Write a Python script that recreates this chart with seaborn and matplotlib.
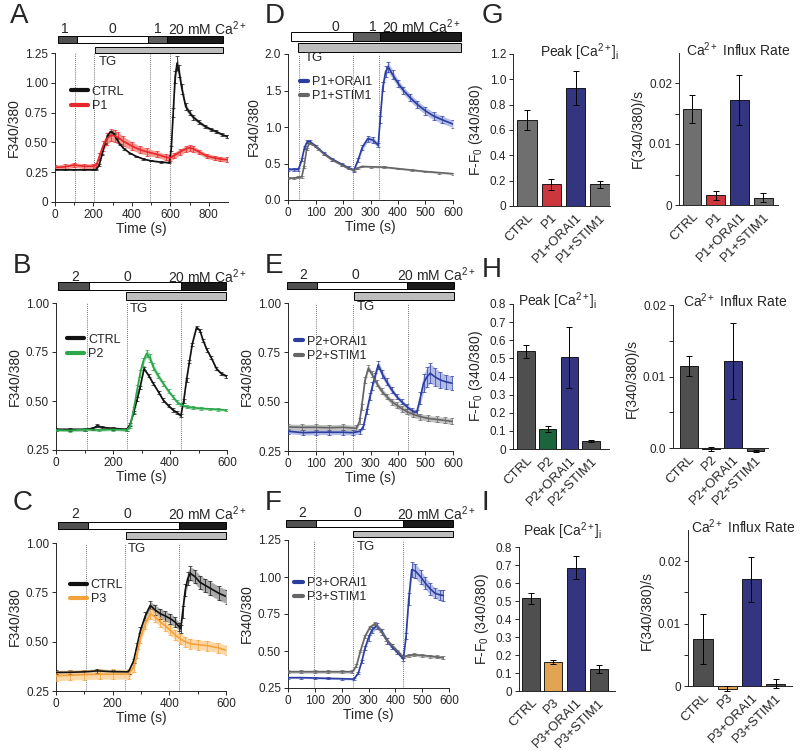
import numpy as np
import pandas as pd
import matplotlib
matplotlib.use("Agg")
import matplotlib.pyplot as plt
import seaborn as sns
from matplotlib.patches import Rectangle
from matplotlib.lines import Line2D

# --- 1. Traces: time (s), F340/380 mean, SEM ---
a_t_ctrl = [0, 50, 100, 150, 200, 215, 230, 245, 260, 275, 290, 305, 320, 340, 360, 390, 420, 460, 500, 550,
            595, 605, 615, 625, 635, 645, 660, 680, 700, 720, 750, 780, 810, 840, 870, 895]
a_ctrl = [0.27, 0.27, 0.27, 0.27, 0.27, 0.275, 0.31, 0.40, 0.49, 0.56, 0.59, 0.575, 0.53, 0.48, 0.445, 0.41, 0.385,
          0.36, 0.345, 0.335, 0.33, 0.45, 0.75, 1.05, 1.165, 1.10, 0.95, 0.80, 0.75, 0.71, 0.67, 0.635, 0.61, 0.59,
          0.565, 0.55]
a_ctrl_sem = [0.005] * 21 + [0.02, 0.04, 0.05, 0.06, 0.05, 0.04, 0.03, 0.02, 0.02, 0.015, 0.015, 0.012, 0.012,
                             0.01, 0.01]
a_t_p1 = [0, 50, 100, 150, 200, 215, 230, 250, 270, 290, 310, 330, 355, 400, 440, 480, 530, 580, 600, 620, 650,
          680, 700, 720, 750, 790, 830, 860, 895]
a_p1 = [0.29, 0.295, 0.31, 0.30, 0.30, 0.31, 0.38, 0.47, 0.53, 0.56, 0.555, 0.54, 0.51, 0.47, 0.44, 0.42, 0.40,
        0.375, 0.37, 0.39, 0.42, 0.445, 0.455, 0.445, 0.42, 0.385, 0.37, 0.36, 0.355]
a_p1_sem = [0.02, 0.02, 0.02, 0.02, 0.02, 0.02, 0.03, 0.04, 0.05, 0.05, 0.05, 0.045, 0.04, 0.035, 0.03, 0.03,
            0.025, 0.025, 0.025, 0.025, 0.025, 0.025, 0.025, 0.025, 0.02, 0.02, 0.02, 0.02, 0.02]

d_t_orai = [0, 20, 38, 50, 60, 70, 80, 100, 130, 160, 195, 220, 240, 255, 270, 290, 310, 328, 335, 345, 355, 365,
            380, 400, 420, 445, 470, 500, 530, 560, 600]
d_orai = [0.42, 0.42, 0.42, 0.55, 0.72, 0.80, 0.80, 0.74, 0.64, 0.56, 0.49, 0.44, 0.41, 0.55, 0.72, 0.84, 0.82,
          0.75, 1.10, 1.55, 1.76, 1.82, 1.72, 1.60, 1.50, 1.40, 1.31, 1.22, 1.15, 1.10, 1.04]
d_orai_sem = [0.02] * 13 + [0.03, 0.04, 0.04, 0.04, 0.03, 0.05, 0.06, 0.07, 0.07, 0.06, 0.05, 0.05, 0.05, 0.05,
                            0.05, 0.05, 0.05, 0.05]
d_t_stim = [0, 20, 38, 50, 58, 68, 78, 90, 110, 130, 160, 195, 220, 240, 255, 270, 300, 350, 400, 450, 500, 550, 600]
d_stim = [0.30, 0.30, 0.31, 0.32, 0.45, 0.70, 0.78, 0.76, 0.70, 0.63, 0.55, 0.48, 0.43, 0.41, 0.44, 0.46, 0.455,
          0.45, 0.43, 0.41, 0.39, 0.375, 0.36]
d_stim_sem = 0.012

b_t_ctrl = [0, 50, 100, 130, 145, 160, 200, 248, 260, 272, 285, 295, 309, 325, 341, 360, 376, 395, 411, 425, 438,
            448, 458, 468, 478, 493, 505, 516, 530, 545, 563, 580, 598]
b_ctrl = [0.355, 0.355, 0.355, 0.36, 0.374, 0.365, 0.36, 0.355, 0.38, 0.44, 0.51, 0.57, 0.665, 0.63, 0.59, 0.545,
          0.505, 0.475, 0.454, 0.44, 0.425, 0.50, 0.607, 0.70, 0.79, 0.875, 0.86, 0.81, 0.76, 0.72, 0.665, 0.64, 0.627]
b_ctrl_sem = 0.008
b_t_p2 = [0, 50, 100, 150, 200, 248, 260, 272, 285, 295, 305, 318, 330, 341, 358, 376, 395, 411, 425, 440, 460, 481,
          510, 540, 570, 598]
b_p2 = [0.352, 0.35, 0.355, 0.352, 0.355, 0.352, 0.37, 0.455, 0.56, 0.64, 0.70, 0.742, 0.72, 0.674, 0.63, 0.59,
        0.55, 0.52, 0.495, 0.48, 0.47, 0.466, 0.462, 0.46, 0.457, 0.454]
b_p2_sem = [0.006] * 6 + [0.01, 0.015, 0.02, 0.02, 0.02, 0.02, 0.02, 0.018, 0.015, 0.012, 0.01, 0.01, 0.01, 0.008,
                          0.008, 0.008, 0.006, 0.006, 0.006, 0.006]

e_t_stim = [0, 50, 100, 150, 200, 249, 260, 268, 280, 292, 305, 322, 340, 359, 377, 395, 413, 432, 456, 481, 510,
            541, 570, 596]
e_stim = [0.372, 0.37, 0.37, 0.368, 0.37, 0.365, 0.40, 0.475, 0.61, 0.67, 0.64, 0.594, 0.555, 0.526, 0.50, 0.483,
          0.465, 0.45, 0.435, 0.424, 0.415, 0.41, 0.405, 0.40]
e_stim_sem = 0.015
e_t_orai = [0, 55, 100, 150, 200, 237, 262, 274, 286, 298, 307, 316, 328, 343, 359, 377, 395, 413, 432, 450, 468,
            481, 493, 505, 517, 535, 554, 575, 596]
e_orai = [0.35, 0.343, 0.345, 0.345, 0.345, 0.343, 0.35, 0.374, 0.45, 0.526, 0.58, 0.627, 0.687, 0.64, 0.60, 0.56,
          0.526, 0.50, 0.475, 0.455, 0.445, 0.52, 0.594, 0.625, 0.644, 0.625, 0.61, 0.60, 0.594]
e_orai_sem = [0.012] * 7 + [0.012, 0.015, 0.02, 0.02, 0.02, 0.02, 0.02, 0.018, 0.015, 0.012, 0.012, 0.012, 0.012,
                            0.012, 0.03, 0.045, 0.05, 0.05, 0.045, 0.04, 0.035, 0.035]

c_t_ctrl = [0, 50, 100, 145, 200, 256, 274, 286, 298, 315, 333, 350, 368, 386, 404, 420, 435, 440, 447, 456, 465,
            474, 490, 509, 527, 545, 575, 604]
c_ctrl = [0.344, 0.345, 0.347, 0.352, 0.348, 0.347, 0.403, 0.48, 0.557, 0.63, 0.684, 0.66, 0.642, 0.63, 0.616, 0.60,
          0.575, 0.565, 0.65, 0.761, 0.82, 0.846, 0.83, 0.80, 0.785, 0.77, 0.745, 0.727]
c_ctrl_sem = [0.01] * 6 + [0.01, 0.015, 0.015, 0.02, 0.02, 0.025, 0.025, 0.025, 0.025, 0.025, 0.02, 0.02, 0.03,
                           0.03, 0.035, 0.035, 0.035, 0.035, 0.035, 0.035, 0.035, 0.035]
c_t_p3 = [0, 50, 100, 156, 200, 256, 274, 286, 298, 315, 333, 350, 368, 386, 404, 420, 439, 456, 474, 500, 533, 570,
          604]
c_p3 = [0.327, 0.33, 0.333, 0.335, 0.335, 0.335, 0.37, 0.44, 0.52, 0.59, 0.642, 0.625, 0.60, 0.58, 0.557, 0.535,
        0.514, 0.50, 0.49, 0.485, 0.48, 0.47, 0.455]
c_p3_sem = 0.025

f_t_orai = [0, 50, 100, 150, 200, 245, 262, 275, 287, 300, 312, 331, 350, 370, 387, 408, 430, 440, 450, 461, 475,
            495, 511, 530, 548, 565, 579]
f_orai = [0.32, 0.32, 0.318, 0.315, 0.313, 0.31, 0.35, 0.43, 0.52, 0.59, 0.64, 0.67, 0.63, 0.57, 0.53, 0.49, 0.445,
          0.60, 0.85, 1.05, 1.04, 1.00, 0.96, 0.92, 0.89, 0.88, 0.875]
f_orai_sem = [0.006] * 7 + [0.01, 0.015, 0.02, 0.02, 0.02, 0.02, 0.02, 0.015, 0.01, 0.01, 0.02, 0.04, 0.05, 0.05,
                            0.045, 0.04, 0.04, 0.035, 0.035, 0.035]
f_t_stim = [0, 50, 100, 150, 200, 240, 255, 270, 287, 305, 324, 345, 365, 387, 408, 430, 450, 470, 500, 530, 555, 579]
f_stim = [0.36, 0.36, 0.36, 0.36, 0.36, 0.36, 0.40, 0.50, 0.60, 0.66, 0.685, 0.64, 0.58, 0.54, 0.50, 0.46, 0.47,
          0.475, 0.47, 0.465, 0.46, 0.455]
f_stim_sem = 0.01

# --- 2. Bar summaries ---
g_groups = ['CTRL', 'P1', 'P1+ORAI1', 'P1+STIM1']
g_peak = [0.68, 0.17, 0.93, 0.17]
g_peak_sem = [0.08, 0.04, 0.135, 0.03]
g_rate = [0.0158, 0.0016, 0.0172, 0.0012]
g_rate_sem = [0.0023, 0.0007, 0.0041, 0.0007]

h_groups = ['CTRL', 'P2', 'P2+ORAI1', 'P2+STIM1']
h_peak = [0.538, 0.11, 0.505, 0.044]
h_peak_sem = [0.035, 0.015, 0.17, 0.004]
h_rate = [0.0115, -0.00015, 0.0122, -0.0004]
h_rate_sem = [0.0014, 0.0003, 0.0053, 0.0001]

i_groups = ['CTRL', 'P3', 'P3+ORAI1', 'P3+STIM1']
i_peak = [0.515, 0.162, 0.685, 0.12]
i_peak_sem = [0.032, 0.01, 0.065, 0.022]
i_rate = [0.0075, -0.0004, 0.0171, 0.0004]
i_rate_sem = [0.0040, 0.0004, 0.0036, 0.0007]

# --- 3. Style ---
W, H = 800, 751
sns.set_theme(style='ticks')
plt.rcParams['font.family'] = ['Liberation Sans', 'DejaVu Sans']
plt.rcParams['mathtext.fontset'] = 'custom'
plt.rcParams['mathtext.rm'] = 'Liberation Sans'
plt.rcParams['mathtext.it'] = 'Liberation Sans:italic'
plt.rcParams['mathtext.bf'] = 'Liberation Sans:bold'
plt.rcParams['axes.linewidth'] = 0.7

BLACK, CTRL_BAND = '#111111', '#9a9a9a'
RED, RED_BAND = '#e8262b', '#f2897d'
GREEN, GREEN_BAND = '#2aa84a', '#93d3a2'
ORANGE, ORANGE_BAND = '#f5a23a', '#fbd29a'
BLUE, BLUE_BAND = '#2b3ea0', '#a6b0e3'
GREY, GREY_BAND = '#666666', '#b8b8b8'
CA = 'Ca$^{2+}$'

fig = plt.figure(figsize=(8, 7.51), dpi=100)


def px_axes(l, t, r, b):
    return fig.add_axes([l / W, 1 - b / H, (r - l) / W, (b - t) / H])


def draw_trace(ax, t, v, e, color, band):
    t = np.asarray(t, float)
    v = np.asarray(v, float)
    e = np.broadcast_to(np.asarray(e, float), v.shape)
    ax.fill_between(t, v - e, v + e, color=band, lw=0, alpha=0.85, zorder=2)
    ax.errorbar(t, v, yerr=e, fmt='none', ecolor=color, elinewidth=0.5, capsize=1.2, capthick=0.5, zorder=3)
    sns.lineplot(x=t, y=v, color=color, lw=1.2, ax=ax, zorder=4)


def trace_panel(box, lines, xlim, xticks, xminor, ylim, yticks, ylabels, marks, segs, tg, sol_labels,
                bar_y, tg_y, label_y, tg_text, leg_xy, leg_hl):
    ax = px_axes(*box)
    for t, v, e, col, band, lab in lines:
        draw_trace(ax, t, v, e, col, band)
    for m in marks:
        ax.axvline(m, color='#444444', ls=(0, (1, 1.5)), lw=0.6, zorder=1)
    ax.set_xlim(xlim)
    ax.set_ylim(ylim)
    ax.set_xticks(xticks)
    ax.set_xticks(xminor, minor=True)
    ax.set_yticks(yticks, ylabels)
    ax.tick_params(labelsize=8.5, length=3, width=0.7, pad=2)
    ax.tick_params(which='minor', length=2.5, width=0.7)
    sns.despine(ax=ax)
    ax.set_xlabel('Time (s)', fontsize=10, labelpad=1)
    ax.set_ylabel('F340/380', fontsize=10, labelpad=3)
    tr = ax.get_xaxis_transform()
    for t0, t1, c in segs:
        ax.add_patch(Rectangle((t0, bar_y[0]), t1 - t0, bar_y[1], transform=tr, facecolor=c,
                               edgecolor='black', lw=0.7, clip_on=False))
    ax.add_patch(Rectangle((tg[0], tg_y[0]), tg[1] - tg[0], tg_y[1], transform=tr, facecolor='#bdbdbd',
                           edgecolor='black', lw=0.7, clip_on=False))
    for x, s, ha in sol_labels:
        ax.text(x, label_y, s, transform=tr, ha=ha, va='center', fontsize=10)
    ax.text(tg_text[0], tg_text[1], 'TG', transform=tr, ha='left', va='center', fontsize=9.5)
    handles = [Line2D([], [], color=col, lw=3) for t, v, e, col, band, lab in lines]
    labels = [lab for t, v, e, col, band, lab in lines]
    ax.legend(handles, labels, loc='upper left', bbox_to_anchor=leg_xy, frameon=False, borderpad=0,
              borderaxespad=0, handlelength=leg_hl, handletextpad=0.3, labelspacing=0.2, fontsize=9)
    return ax


def bar_panel(box, groups, vals, errs, colors, xlim, ylim, yticks, ylabels, title, title_xy, ylabel,
              zero_spine=False):
    ax = px_axes(*box)
    df = pd.DataFrame({'group': groups, 'value': vals})
    sns.barplot(data=df, x='group', y='value', hue='group', palette=dict(zip(groups, colors)), legend=False,
                width=0.8, edgecolor='black', linewidth=0.6, errorbar=None, ax=ax)
    ax.errorbar(np.arange(len(groups)), vals, yerr=errs, fmt='none', ecolor='black', elinewidth=0.7,
                capsize=2, capthick=0.7, zorder=5)
    sns.despine(ax=ax)
    if zero_spine:
        # moving the spine resets the ticks, so do it before styling them
        ax.spines['bottom'].set_position(('data', 0))
        ax.spines['left'].set_bounds(0, ylim[1])
    ax.set_xlim(xlim)
    ax.set_ylim(ylim)
    ax.set_yticks(yticks, ylabels)
    ax.set_xticks(range(len(groups)), groups, rotation=45, ha='right', rotation_mode='anchor')
    ax.tick_params(axis='y', labelsize=8.5, length=3, width=0.7, pad=2)
    ax.tick_params(axis='x', labelsize=9.5, length=0, pad=4)
    ax.set_xlabel('')
    ax.set_ylabel(ylabel, fontsize=10, labelpad=3)
    ax.text(title_xy[0], title_xy[1], title, transform=ax.transAxes, ha='center', va='center', fontsize=10)
    return ax


# --- 4. Trace panels ---
trace_panel((55, 53, 228, 202),
            [(a_t_ctrl, a_ctrl, a_ctrl_sem, BLACK, CTRL_BAND, 'CTRL'),
             (a_t_p1, a_p1, a_p1_sem, RED, RED_BAND, 'P1')],
            (0, 900), [0, 200, 400, 600, 800], [100, 300, 500, 700], (0, 1.25),
            [0, 0.25, 0.5, 0.75, 1.0, 1.25], ['0', '0.25', '0.50', '0.75', '1.00', '1.25'],
            [103, 205, 495, 598],
            [(14, 113, '#505050'), (113, 485, 'white'), (485, 584, '#5e5e5e'), (584, 874, '#1a1a1a')],
            (208, 874), [(52, '1', 'center'), (296, '0', 'center'), (535, '1', 'center'),
                         (587, '20 mM ' + CA, 'left')],
            (1.067, 0.047), (1.0, 0.040), 1.16, (230, 0.94), (0.09, 0.78), 1.4)

trace_panel((288, 54, 453, 200),
            [(d_t_orai, d_orai, d_orai_sem, BLUE, BLUE_BAND, 'P1+ORAI1'),
             (d_t_stim, d_stim, d_stim_sem, GREY, GREY_BAND, 'P1+STIM1')],
            (0, 600), [0, 100, 200, 300, 400, 500, 600], [], (0, 2.0),
            [0, 0.5, 1.0, 1.5, 2.0], ['0.0', '0.5', '1.0', '1.5', '2.0'],
            [40, 238, 330],
            [(12, 237, 'white'), (237, 336, '#5e5e5e'), (336, 628, '#1a1a1a')],
            (36, 628), [(171, '0', 'center'), (307, '1', 'center'), (341, '20 mM ' + CA, 'left')],
            (1.089, 0.062), (1.014, 0.062), 1.185, (61, 0.97), (0.07, 0.85), 0.7)

trace_panel((56, 303, 227, 450),
            [(b_t_ctrl, b_ctrl, b_ctrl_sem, BLACK, CTRL_BAND, 'CTRL'),
             (b_t_p2, b_p2, b_p2_sem, GREEN, GREEN_BAND, 'P2')],
            (0, 600), [0, 200, 400, 600], [100, 300, 500], (0.25, 1.0),
            [0.25, 0.5, 0.75, 1.0], ['0.25', '0.50', '0.75', '1.00'],
            [110, 248, 438],
            [(7, 116, '#505050'), (116, 439, 'white'), (439, 596, '#1a1a1a')],
            (245, 596), [(67, '2', 'center'), (249, '0', 'center'), (393, '20 mM ' + CA, 'left')],
            (1.088, 0.054), (1.02, 0.054), 1.18, (260, 0.96), (0.064, 0.79), 1.4)

trace_panel((288, 303, 453, 451),
            [(e_t_orai, e_orai, e_orai_sem, BLUE, BLUE_BAND, 'P2+ORAI1'),
             (e_t_stim, e_stim, e_stim_sem, GREY, GREY_BAND, 'P2+STIM1')],
            (0, 600), [0, 100, 200, 300, 400, 500, 600], [], (0.25, 1.0),
            [0.25, 0.5, 0.75, 1.0], ['0.25', '0.50', '0.75', '1.00'],
            [100, 235, 435],
            [(-4, 105, '#505050'), (105, 433, 'white'), (433, 604, '#1a1a1a')],
            (240, 604), [(55, '2', 'center'), (244, '0', 'center'), (396, '20 mM ' + CA, 'left')],
            (1.095, 0.047), (1.02, 0.054), 1.19, (250, 0.975), (0.04, 0.78), 0.7)

trace_panel((56, 543, 226, 691),
            [(c_t_ctrl, c_ctrl, c_ctrl_sem, BLACK, CTRL_BAND, 'CTRL'),
             (c_t_p3, c_p3, c_p3_sem, ORANGE, ORANGE_BAND, 'P3')],
            (0, 600), [0, 200, 400, 600], [100, 300, 500], (0.25, 1.0),
            [0.25, 0.5, 0.75, 1.0], ['0.25', '0.50', '0.75', '1.00'],
            [105, 245, 435],
            [(7, 113, '#505050'), (113, 434, 'white'), (434, 600, '#1a1a1a')],
            (247, 600), [(67, '2', 'center'), (251, '0', 'center'), (395, '20 mM ' + CA, 'left')],
            (1.095, 0.047), (1.027, 0.047), 1.196, (254, 0.96), (0.08, 0.757), 1.4)

trace_panel((288, 540, 449, 688),
            [(f_t_orai, f_orai, f_orai_sem, BLUE, BLUE_BAND, 'P3+ORAI1'),
             (f_t_stim, f_stim, f_stim_sem, GREY, GREY_BAND, 'P3+STIM1')],
            (0, 600), [0, 100, 200, 300, 400, 500, 600], [], (0.25, 1.25),
            [0.25, 0.5, 0.75, 1.0, 1.25], ['0.25', '0.50', '0.75', '1.00', '1.25'],
            [97, 242, 428],
            [(-7, 104, '#505050'), (104, 429, 'white'), (429, 616, '#1a1a1a')],
            (243, 616), [(52, '2', 'center'), (260, '0', 'center'), (405, '20 mM ' + CA, 'left')],
            (1.088, 0.047), (1.02, 0.04), 1.18, (257, 0.955), (0.04, 0.75), 0.7)

# --- 5. Bar panels ---
PEAK = 'Peak [' + CA + ']$_\\mathrm{i}$'
RATE = CA + ' Influx Rate'
FF0 = 'F-F$_0$ (340/380)'
FRATE = 'F(340/380)/s'
peak_ticks = [0, 0.1, 0.2, 0.3, 0.4, 0.5, 0.6, 0.7, 0.8]
peak_labels = ['0', '0.1', '0.2', '0.3', '0.4', '0.5', '0.6', '0.7', '0.8']
rate_ticks = [0, 0.005, 0.01, 0.015, 0.02]

bar_panel((513, 54, 610, 206), g_groups, g_peak, g_peak_sem, ['#6f6f6f', '#e41e26', '#27288e', '#6f6f6f'],
          (-0.58, 3.42), (0, 1.2), [0, 0.2, 0.4, 0.6, 0.8, 1.0, 1.2],
          ['0', '0.2', '0.4', '0.6', '0.8', '1.0', '1.2'], PEAK, (0.69, 1.01), FF0)
bar_panel((679, 52.5, 778, 205), g_groups, g_rate, g_rate_sem, ['#6f6f6f', '#e41e26', '#27288e', '#6f6f6f'],
          (-0.55, 3.63), (0, 0.025), rate_ticks, ['0', '', '0.01', '', '0.02'], RATE, (0.6, 1.016), FRATE)

bar_panel((513, 304, 609, 449), h_groups, h_peak, h_peak_sem, ['#4f4f4f', '#10703a', '#27288e', '#4f4f4f'],
          (-0.6, 3.83), (0, 0.8), peak_ticks, peak_labels, PEAK, (0.47, 1.02), FF0)
bar_panel((673, 305, 768, 452.3), h_groups, h_rate, h_rate_sem, ['#4f4f4f', '#10703a', '#27288e', '#4f4f4f'],
          (-0.7, 3.56), (-0.0006, 0.02), rate_ticks, ['0.0', '', '0.01', '', '0.02'], RATE, (0.65, 1.027),
          FRATE, zero_spine=True)

bar_panel((519, 547, 615, 691), i_groups, i_peak, i_peak_sem, ['#4f4f4f', '#f7a73b', '#27288e', '#4f4f4f'],
          (-0.53, 3.73), (0, 0.8), peak_ticks, peak_labels, PEAK, (0.46, 1.11), FF0)
bar_panel((688, 530, 792, 691), i_groups, i_rate, i_rate_sem, ['#4f4f4f', '#f7a73b', '#27288e', '#4f4f4f'],
          (-0.62, 3.68), (-0.0008, 0.025), rate_ticks, ['0', '', '0.01', '', '0.02'], RATE, (0.53, 1.02),
          FRATE, zero_spine=True)

# --- 6. Panel letters ---
for x, y, s in [(10, 16, 'A'), (13, 266, 'B'), (13, 503, 'C'), (265, 16, 'D'), (265, 266, 'E'),
                (265, 503, 'F'), (482, 16, 'G'), (482, 270, 'H'), (482, 503, 'I')]:
    fig.text(x / W, 1 - y / H, s, fontsize=20, ha='left', va='center')

fig.savefig('out.png', dpi=100)
